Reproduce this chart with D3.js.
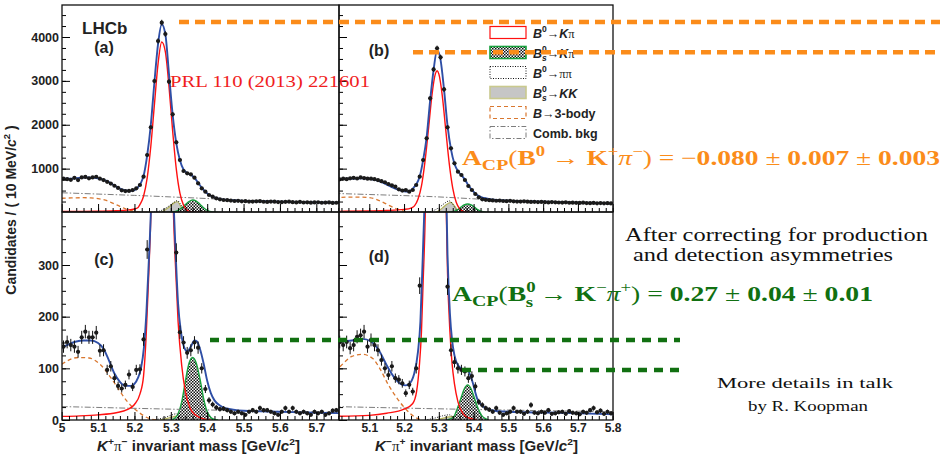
<!DOCTYPE html>
<html><head><meta charset="utf-8">
<script src="https://cdn.jsdelivr.net/npm/d3@7"></script>
<style>body{margin:0;background:#fff}svg{display:block}</style>
</head><body><svg id="c" width="942" height="454"></svg>
<script>
// ---------------- DATA ----------------
const massBins = d3.range(80).map(i => +(5.005 + 0.01 * i).toFixed(3));

const countsA = [770,760,745,790,740,800,810,780,800,815,
 770,740,700,660,610,560,505,488,492,510,
 551,627,817,1310,1942,2997,3909,4327,4068,2982,
 2237,1600,1197,946,893,870,794,665,551,475,
 399,361,323,300,285,280,272,262,265,255,
 258,250,248,255,258,245,242,250,246,238,
 236,244,246,235,230,240,228,232,225,230,
 234,222,226,230,218,222,240,228,224,220];
const countsB = [765,755,770,760,780,790,775,800,785,770,
 770,760,740,715,690,650,620,588,528,500,
 513,475,513,627,817,1197,1690,2602,3262,3742,
 3537,2807,1942,1462,1121,931,855,741,604,513,
 422,346,300,289,282,275,268,272,262,258,
 265,255,250,248,255,246,240,244,238,242,
 235,230,238,232,228,226,232,222,225,220,
 218,224,215,212,218,210,214,208,212,206];
const countsC = [142,151,145,142,132,160,171,160,160,169,
 134,135,97,104,81,66,61,68,88,64,
 97,98,156,330,560,900,1150,1250,1120,820,
 500,324,170,150,130,135,150,140,100,60,
 38,30,24,21,22,19,16,13,16,13,
 10,16,19,16,23,19,19,16,13,10,
 16,23,16,23,16,13,16,13,10,16,
 13,16,10,13,18,19,16,14,12,15];
const countsD = [150,151,145,151,139,145,161,164,171,142,
 155,145,135,116,100,87,104,81,78,71,
 52,68,55,100,260,520,850,1200,1380,1400,
 1150,700,258,135,112,100,97,94,81,85,
 65,35,29,23,20,16,23,14,10,13,
 16,23,16,16,12,16,29,14,13,16,
 14,19,12,13,15,16,12,17,14,13,
 11,16,14,19,23,15,18,12,16,13];

// fit components: [mass, candidates]
const totalA = [[5.0,775],[5.025,770],[5.045,785],[5.065,800],[5.085,795],[5.105,770],[5.125,715],[5.145,615],[5.165,525],[5.18,495],[5.19,492],[5.2,510],[5.21,580],[5.218,680],[5.225,830],[5.235,1300],[5.245,2000],[5.255,2980],[5.265,3850],[5.275,4290],[5.285,4060],[5.295,3150],[5.305,2230],[5.315,1580],[5.325,1190],[5.335,980],[5.345,900],[5.355,860],[5.365,790],[5.375,680],[5.385,565],[5.395,470],[5.405,405],[5.415,360],[5.425,328],[5.44,300],[5.46,285],[5.5,265],[5.55,255],[5.6,245],[5.65,237],[5.7,230],[5.75,225],[5.8,220]];
const kpiA = [[5.0,22],[5.1,30],[5.15,40],[5.18,55],[5.2,80],[5.21,115],[5.215,180],[5.225,370],[5.235,790],[5.245,1510],[5.255,2470],[5.265,3400],[5.275,3885],[5.285,3660],[5.295,2870],[5.305,1860],[5.315,995],[5.325,440],[5.335,165],[5.345,50],[5.355,12],[5.37,1],[5.4,0]];
const bsA = [[5.29,0],[5.30,5],[5.31,18],[5.32,48],[5.33,105],[5.34,180],[5.35,250],[5.36,285],[5.37,260],[5.38,190],[5.39,110],[5.40,50],[5.41,18],[5.42,5],[5.43,0]];
const pipiA = [[5.24,0],[5.26,15],[5.28,70],[5.29,120],[5.30,180],[5.31,240],[5.318,270],[5.326,200],[5.334,80],[5.342,15],[5.35,0]];
const kkA = [[5.27,0],[5.28,35],[5.29,90],[5.30,155],[5.31,225],[5.318,245],[5.326,160],[5.334,40],[5.342,0]];
const threeA = [[5.0,325],[5.02,330],[5.04,335],[5.06,337],[5.08,333],[5.10,315],[5.12,280],[5.14,215],[5.16,140],[5.18,70],[5.20,25],[5.22,5],[5.24,0]];
const combA = [[5.0,450],[5.1,420],[5.2,390],[5.3,355],[5.4,318],[5.5,275],[5.6,250],[5.7,232],[5.8,215]];

const totalB = [[5.0,765],[5.04,770],[5.08,780],[5.105,765],[5.125,725],[5.145,660],[5.165,580],[5.185,515],[5.2,485],[5.21,480],[5.22,505],[5.228,570],[5.235,640],[5.245,820],[5.255,1200],[5.265,1720],[5.275,2550],[5.285,3250],[5.295,3700],[5.305,3480],[5.315,2800],[5.325,1980],[5.335,1440],[5.345,1110],[5.355,940],[5.365,850],[5.375,750],[5.385,620],[5.395,515],[5.405,435],[5.415,375],[5.43,330],[5.45,300],[5.5,270],[5.6,246],[5.7,226],[5.8,209]];
const kpiB = [[5.0,25],[5.1,35],[5.15,45],[5.2,70],[5.22,100],[5.23,150],[5.24,300],[5.25,600],[5.26,1150],[5.27,1880],[5.28,2660],[5.29,3160],[5.295,3230],[5.30,3160],[5.31,2660],[5.32,1876],[5.33,1114],[5.34,556],[5.35,233],[5.36,82],[5.37,25],[5.38,6],[5.40,0]];
const bsB = [[5.313,0],[5.323,2],[5.333,9],[5.343,26],[5.353,63],[5.363,118],[5.373,172],[5.383,195],[5.393,172],[5.403,118],[5.413,63],[5.423,26],[5.433,9],[5.443,2],[5.453,0]];
const pipiB = [[5.26,0],[5.28,30],[5.30,110],[5.31,170],[5.32,230],[5.33,265],[5.34,190],[5.35,60],[5.36,5],[5.37,0]];
const kkB = [[5.29,0],[5.30,40],[5.31,100],[5.32,170],[5.335,230],[5.345,150],[5.355,40],[5.365,0]];
const threeB = [[5.0,330],[5.04,350],[5.08,352],[5.10,338],[5.12,300],[5.14,230],[5.16,150],[5.18,80],[5.20,30],[5.22,8],[5.24,0]];
const combB = [[5.0,435],[5.1,410],[5.2,385],[5.3,355],[5.4,312],[5.5,272],[5.6,246],[5.7,226],[5.8,208]];

const totalC = [[5.0,140],[5.02,147],[5.04,152],[5.06,154],[5.08,154],[5.10,149],[5.115,138],[5.13,115],[5.145,90],[5.16,74],[5.175,66],[5.19,66],[5.20,70],[5.21,82],[5.218,100],[5.226,140],[5.233,210],[5.239,300],[5.245,400],[5.255,700],[5.265,1050],[5.275,1230],[5.285,1130],[5.295,830],[5.305,480],[5.312,345],[5.32,225],[5.328,170],[5.336,142],[5.345,133],[5.355,142],[5.365,154],[5.372,152],[5.38,138],[5.39,110],[5.40,76],[5.41,52],[5.42,38],[5.435,28],[5.45,23],[5.5,18],[5.6,16],[5.7,14],[5.8,13]];
const kpiC = [[5.0,7],[5.05,8],[5.1,10],[5.15,14],[5.18,20],[5.2,30],[5.215,50],[5.225,85],[5.232,160],[5.238,260],[5.244,370],[5.255,670],[5.265,1000],[5.275,1180],[5.285,1080],[5.295,790],[5.305,450],[5.312,310],[5.32,190],[5.33,105],[5.34,55],[5.353,23],[5.367,10],[5.385,3],[5.41,0]];
const bsC = [[5.30,0],[5.31,3],[5.32,12],[5.33,35],[5.34,75],[5.35,110],[5.36,121],[5.37,110],[5.38,80],[5.39,42],[5.40,16],[5.41,5],[5.42,1],[5.43,0]];
const pipiC = [[5.25,0],[5.28,4],[5.30,9],[5.315,12],[5.325,8],[5.335,2],[5.345,0]];
const kkC = [[5.27,0],[5.29,3],[5.31,7],[5.325,8],[5.335,3],[5.345,0]];
const threeC = [[5.0,108],[5.045,121],[5.075,120],[5.105,108],[5.135,82],[5.155,61],[5.18,36],[5.21,16],[5.24,3],[5.26,0]];
const combC = [[5.0,26],[5.3,21],[5.8,14]];

const totalD = [[5.0,150],[5.02,152],[5.05,154],[5.08,157],[5.105,152],[5.13,132],[5.15,106],[5.17,84],[5.19,70],[5.205,67],[5.215,70],[5.228,87],[5.24,132],[5.247,190],[5.253,300],[5.258,400],[5.265,580],[5.275,950],[5.285,1300],[5.295,1420],[5.305,1220],[5.312,900],[5.318,560],[5.325,320],[5.332,205],[5.338,155],[5.345,125],[5.355,106],[5.37,98],[5.385,94],[5.395,78],[5.41,42],[5.43,25],[5.47,17],[5.55,15],[5.65,14],[5.8,11]];
const kpiD = [[5.0,7],[5.1,9],[5.15,13],[5.2,21],[5.225,32],[5.236,55],[5.244,105],[5.25,170],[5.255,270],[5.26,370],[5.265,540],[5.275,900],[5.285,1250],[5.295,1380],[5.305,1180],[5.312,860],[5.318,520],[5.325,285],[5.332,170],[5.338,110],[5.345,70],[5.355,35],[5.37,12],[5.39,3],[5.41,0]];
const bsD = [[5.323,0],[5.333,2],[5.343,6],[5.353,22],[5.363,41],[5.373,60],[5.383,68],[5.393,60],[5.403,41],[5.413,22],[5.423,9],[5.433,3],[5.443,0]];
const pipiD = [[5.26,0],[5.29,4],[5.31,8],[5.33,10],[5.34,6],[5.35,1],[5.36,0]];
const kkD = [[5.29,0],[5.31,3],[5.33,6],[5.345,7],[5.355,2],[5.365,0]];
const threeD = [[5.0,95],[5.01,100],[5.05,123],[5.08,127],[5.11,119],[5.13,100],[5.155,68],[5.18,42],[5.205,21],[5.23,6],[5.25,0]];
const combD = [[5.0,26],[5.35,21],[5.8,16]];

// ticks
const xMajorLeft = [5.0,5.1,5.2,5.3,5.4,5.5,5.6,5.7];
const xLabelsLeft = ["5","5.1","5.2","5.3","5.4","5.5","5.6","5.7"];
const xMajorRight = [5.1,5.2,5.3,5.4,5.5,5.6,5.7,5.8];
const xLabelsRight = ["5.1","5.2","5.3","5.4","5.5","5.6","5.7","5.8"];
const yMajorTop = [1000,2000,3000,4000];
const yMajorBottom = [0,100,200,300];

// ---------------- LAYOUT ----------------
const svg = d3.select('#c');
const defs = svg.append('defs');
const pat = defs.append('pattern').attr('id','checker').attr('width',3).attr('height',3).attr('patternUnits','userSpaceOnUse');
pat.append('rect').attr('width',3).attr('height',3).attr('fill','#fff');
pat.append('rect').attr('width',1.5).attr('height',1.5).attr('fill','#111');
pat.append('rect').attr('x',1.5).attr('y',1.5).attr('width',1.5).attr('height',1.5).attr('fill','#111');

const xL = d3.scaleLinear().domain([5.0,5.8]).range([61.7,352.7]);
const xR = d3.scaleLinear().domain([5.0,5.8]).range([334.5,612.7]);
const yT = d3.scaleLinear().domain([0,4000]).range([212.5,37]);
const yB = d3.scaleLinear().domain([0,300]).range([420,265]);

const C = {blue:'#2f4fa6', red:'#ff1010', green:'#16a03c', olive:'#b4b45a', gray:'#c6c6c6',
  three:'#d9772f', comb:'#7d7d7d', orange:'#fb8c1a', dgreen:'#117011'};
const SANS = "'Liberation Sans', Arial, Helvetica, sans-serif";
const SERIF = "'Liberation Serif', 'Times New Roman', serif";

const panels = [
 {id:'a', x:xL, y:yT, box:[62,5,339,212], counts:countsA, f:{tot:totalA,kpi:kpiA,bs:bsA,pp:pipiA,kk:kkA,th:threeA,cb:combA}},
 {id:'b', x:xR, y:yT, box:[339,5,613,212], counts:countsB, f:{tot:totalB,kpi:kpiB,bs:bsB,pp:pipiB,kk:kkB,th:threeB,cb:combB}},
 {id:'c', x:xL, y:yB, box:[62,212,339,420], counts:countsC, f:{tot:totalC,kpi:kpiC,bs:bsC,pp:pipiC,kk:kkC,th:threeC,cb:combC}},
 {id:'d', x:xR, y:yB, box:[339,212,613,420], counts:countsD, f:{tot:totalD,kpi:kpiD,bs:bsD,pp:pipiD,kk:kkD,th:threeD,cb:combD}}
];

panels.forEach(p => {
  const [x0,y0,x1,y1] = p.box;
  defs.append('clipPath').attr('id','clip'+p.id).append('rect')
    .attr('x',x0).attr('y',y0).attr('width',x1-x0).attr('height',y1-y0);
  const g = svg.append('g').attr('clip-path',`url(#clip${p.id})`);
  const line = d3.line().x(d=>p.x(d[0])).y(d=>p.y(d[1])).curve(d3.curveMonotoneX);
  const area = d3.area().x(d=>p.x(d[0])).y0(p.y(0)).y1(d=>p.y(d[1])).curve(d3.curveMonotoneX);
  g.append('path').datum(p.f.kk).attr('d',area).attr('fill',C.gray).attr('stroke','none');
  g.append('path').datum(p.f.kk).attr('d',line).attr('fill','none').attr('stroke',C.olive).attr('stroke-width',1.2);
  g.append('path').datum(p.f.bs).attr('d',area).attr('fill','url(#checker)').attr('stroke','none');
  g.append('path').datum(p.f.bs).attr('d',line).attr('fill','none').attr('stroke',C.green).attr('stroke-width',1.4);
  g.append('path').datum(p.f.pp).attr('d',line).attr('fill','none').attr('stroke','#111').attr('stroke-width',1).attr('stroke-dasharray','1,1.5');
  g.append('path').datum(p.f.th).attr('d',line).attr('fill','none').attr('stroke',C.three).attr('stroke-width',1.3).attr('stroke-dasharray','4,3');
  g.append('path').datum(p.f.cb).attr('d',line).attr('fill','none').attr('stroke',C.comb).attr('stroke-width',1).attr('stroke-dasharray','6,2,1.5,2');
  g.append('path').datum(p.f.kpi).attr('d',line).attr('fill','none').attr('stroke',C.red).attr('stroke-width',1.4);
  g.append('path').datum(p.f.tot).attr('d',line).attr('fill','none').attr('stroke',C.blue).attr('stroke-width',1.9);
  const pts = massBins.map((m,i)=>({m, v:p.counts[i]}));
  g.selectAll('line.err').data(pts).join('line').attr('class','err')
    .attr('x1',d=>p.x(d.m)).attr('x2',d=>p.x(d.m))
    .attr('y1',d=>p.y(d.v-Math.sqrt(d.v))).attr('y2',d=>p.y(d.v+Math.sqrt(d.v)))
    .attr('stroke','#111').attr('stroke-width',1);
  g.selectAll('line.hb').data(pts).join('line').attr('class','hb')
    .attr('x1',d=>p.x(d.m)-1.7).attr('x2',d=>p.x(d.m)+1.7)
    .attr('y1',d=>p.y(d.v)).attr('y2',d=>p.y(d.v))
    .attr('stroke','#111').attr('stroke-width',1);
  g.selectAll('circle').data(pts).join('circle')
    .attr('cx',d=>p.x(d.m)).attr('cy',d=>p.y(d.v)).attr('r',2.1).attr('fill','#1a1a1a');
});

// -------- axes / ticks --------
function styleAxis(sel){ sel.select('.domain').remove(); sel.selectAll('line').attr('stroke','#000').attr('stroke-width',1); }
function xAxes(scale, yPos, majors, labels, lo, hi, showLabels){
  const minors = d3.range(5.0, 5.8001, 0.02).filter(v=>scale(v)>=lo-0.2 && scale(v)<=hi+0.2);
  svg.append('g').attr('transform',`translate(0,${yPos})`)
    .call(d3.axisBottom(scale).tickValues(minors).tickSize(-4).tickFormat('')).call(styleAxis);
  const ax = svg.append('g').attr('transform',`translate(0,${yPos})`)
    .call(d3.axisBottom(scale).tickValues(majors).tickSize(-8).tickPadding(3)
      .tickFormat((d,i)=> showLabels ? labels[i] : '')).call(styleAxis);
  ax.selectAll('text').attr('font-family',SANS).attr('font-weight','bold').attr('font-size',12).attr('fill','#222');
}
xAxes(xL, 212, xMajorLeft, xLabelsLeft, 62, 339, false);
xAxes(xR, 212, xMajorRight, xLabelsRight, 339, 613, false);
xAxes(xL, 420, xMajorLeft, xLabelsLeft, 62, 339, true);
xAxes(xR, 420, xMajorRight, xLabelsRight, 339, 613, true);

function yAxes(scale, xPos, majors, step, maxV, showLabels){
  const minors = d3.range(step, maxV, step);
  svg.append('g').attr('transform',`translate(${xPos},0)`)
    .call(d3.axisLeft(scale).tickValues(minors).tickSize(-4).tickFormat('')).call(styleAxis);
  const ax = svg.append('g').attr('transform',`translate(${xPos},0)`)
    .call(d3.axisLeft(scale).tickValues(majors).tickSize(-8).tickPadding(3)
      .tickFormat(d=> showLabels ? String(d) : '')).call(styleAxis);
  ax.selectAll('text').attr('font-family',SANS).attr('font-weight','bold').attr('font-size',12.5).attr('fill','#222');
}
yAxes(yT, 62, yMajorTop, 250, 4700, true);
yAxes(yT, 339, yMajorTop, 250, 4700, false);
yAxes(yB, 62, yMajorBottom, 25, 400, true);
yAxes(yB, 339, yMajorBottom, 25, 400, false);

panels.forEach(p => {
  const [x0,y0,x1,y1] = p.box;
  svg.append('rect').attr('x',x0).attr('y',y0).attr('width',x1-x0).attr('height',y1-y0)
    .attr('fill','none').attr('stroke','#111').attr('stroke-width',1.3);
});

// -------- rich text helper --------
function rich(parent, x, y, segs, o){
  const t = parent.append('text').attr('x',x).attr('y',y)
    .attr('font-family',o.family).attr('font-size',o.size).attr('fill',o.fill||'#111')
    .attr('font-weight',o.weight||'normal').attr('font-style',o.style||'normal');
  if (o.anchor) t.attr('text-anchor',o.anchor);
  if (o.len) t.attr('textLength',o.len).attr('lengthAdjust','spacingAndGlyphs');
  if (o.transform) t.attr('transform',o.transform);
  let cur = 0;
  segs.forEach(s => {
    const target = s.up ? -s.up*o.size : 0;
    const sp = t.append('tspan').text(s.t).attr('dy',target-cur);
    cur = target;
    if (s.dx) sp.attr('dx',s.dx*o.size);
    if (s.sz) sp.attr('font-size',s.sz*o.size);
    if (s.w) sp.attr('font-weight',s.w);
    if (s.st) sp.attr('font-style',s.st);
    if (s.f) sp.attr('font-family',s.f);
  });
  return t;
}
const sup = (t,extra={}) => Object.assign({t, up:0.42, sz:0.68}, extra);

rich(svg, 82, 34, [{t:'LHCb'}], {family:SANS, size:17, weight:'bold', fill:'#222'});
[['(a)',104,53],['(b)',379,56],['(c)',104,265],['(d)',379,262]].forEach(([s,x,y]) =>
  rich(svg, x, y, [{t:s}], {family:SANS, size:16, weight:'bold', anchor:'middle', fill:'#222'}));

const xTitle = (sign1, sign2) => [{t:'K',st:'italic'}, sup(sign1), {t:'π', w:'normal', f:SERIF}, sup(sign2), {t:' invariant mass [GeV/'}, {t:'c',st:'italic'}, sup('2'), {t:']'}];
rich(svg, 97, 451, xTitle('+','−'), {family:SANS, size:14, weight:'bold', len:203, fill:'#222'});
rich(svg, 375, 451, xTitle('−','+'), {family:SANS, size:14, weight:'bold', len:203, fill:'#222'});
rich(svg, 0, 0, [{t:'Candidates / ( 10 MeV/'}, {t:'c',st:'italic'}, sup('2'), {t:' )'}],
  {family:SANS, size:14, weight:'bold', anchor:'middle', transform:'translate(16,210) rotate(-90)', fill:'#222'});

// legend
const lg = svg.append('g');
const rows = [32.5,52.5,72.5,92.5,112.5,132.5];
const boxStyles = [
  {fill:'#fff', stroke:C.red, sw:1.2},
  {fill:'url(#checker)', stroke:C.green, sw:1.6},
  {fill:'#fff', stroke:'#111', sw:1, dash:'1,1.5'},
  {fill:C.gray, stroke:'#c9c98e', sw:1.6},
  {fill:'#fff', stroke:C.three, sw:1.2, dash:'4,3'},
  {fill:'#fff', stroke:C.comb, sw:1, dash:'5,2,1.5,2'}
];
boxStyles.forEach((b,i) => {
  const r = lg.append('rect').attr('x',490).attr('y',rows[i]-6).attr('width',36).attr('height',12)
    .attr('fill',b.fill).attr('stroke',b.stroke).attr('stroke-width',b.sw);
  if (b.dash) r.attr('stroke-dasharray',b.dash);
});
const legSegs = [
  [{t:'B',st:'italic'}, sup('0'), {t:'→'}, {t:'K',st:'italic'}, {t:'π',w:'normal',f:SERIF}],
  [{t:'B',st:'italic'}, sup('0'), {t:'s',up:-0.28,sz:0.68,dx:-0.38,st:'italic'}, {t:'→'}, {t:'K',st:'italic'}, {t:'π',w:'normal',f:SERIF}],
  [{t:'B',st:'italic'}, sup('0'), {t:'→'}, {t:'ππ',w:'normal',f:SERIF}],
  [{t:'B',st:'italic'}, sup('0'), {t:'s',up:-0.28,sz:0.68,dx:-0.38,st:'italic'}, {t:'→'}, {t:'KK',st:'italic'}],
  [{t:'B',st:'italic'}, {t:'→'}, {t:'3-body'}],
  [{t:'Comb. bkg'}]
];
legSegs.forEach((s,i) => rich(lg, 533, rows[i]+5, s, {family:SANS, size:12.5, weight:'bold', fill:'#222'}));

rich(svg, 170, 87, [{t:'PRL 110 (2013) 221601'}], {family:SERIF, size:17, fill:'#f01e1e', len:200});

const ann = svg.append('g');
ann.append('line').attr('x1',179).attr('x2',940).attr('y1',22).attr('y2',22)
  .attr('stroke',C.orange).attr('stroke-width',4.5).attr('stroke-dasharray','10,6');
ann.append('line').attr('x1',413).attr('x2',940).attr('y1',52.3).attr('y2',52.3)
  .attr('stroke',C.orange).attr('stroke-width',4.5).attr('stroke-dasharray','10,6');
ann.append('line').attr('x1',210).attr('x2',680).attr('y1',340).attr('y2',340)
  .attr('stroke',C.dgreen).attr('stroke-width',4.5).attr('stroke-dasharray','9,7');
ann.append('line').attr('x1',462).attr('x2',680).attr('y1',370).attr('y2',370)
  .attr('stroke',C.dgreen).attr('stroke-width',4.5).attr('stroke-dasharray','9,7');

const N = {w:'normal'};
rich(svg, 462, 165, [
  {t:'A'}, {t:'CP',up:-0.22,sz:0.72}, Object.assign({t:'('},N), {t:'B'}, sup('0'),
  Object.assign({t:' → '},N), {t:'K'}, sup('+',N), {t:'π',w:'normal',st:'italic'}, sup('−',N),
  Object.assign({t:') = −'},N), {t:'0.080'}, Object.assign({t:' ± '},N), {t:'0.007'}, Object.assign({t:' ± '},N), {t:'0.003'}
], {family:SERIF, size:21, weight:'bold', fill:C.orange, len:478});

rich(svg, 452, 301, [
  {t:'A'}, {t:'CP',up:-0.22,sz:0.72}, Object.assign({t:'('},N), {t:'B'}, sup('0'), {t:'s',up:-0.3,sz:0.68,dx:-0.36},
  Object.assign({t:' → '},N), {t:'K'}, sup('−',N), {t:'π',w:'normal',st:'italic'}, sup('+',N),
  Object.assign({t:') = '},N), {t:'0.27'}, Object.assign({t:' ± '},N), {t:'0.04'}, Object.assign({t:' ± '},N), {t:'0.01'}
], {family:SERIF, size:21, weight:'bold', fill:C.dgreen, len:421});

rich(svg, 625, 241, [{t:'After correcting for production'}], {family:SERIF, size:19, len:303, fill:'#111'});
rich(svg, 633, 261, [{t:'and detection asymmetries'}], {family:SERIF, size:19, len:260, fill:'#111'});
rich(svg, 717, 388, [{t:'More details in talk'}], {family:SERIF, size:15, len:176, fill:'#111'});
rich(svg, 748, 411, [{t:'by R. Koopman'}], {family:SERIF, size:15, len:120, fill:'#111'});
</script></body></html>
